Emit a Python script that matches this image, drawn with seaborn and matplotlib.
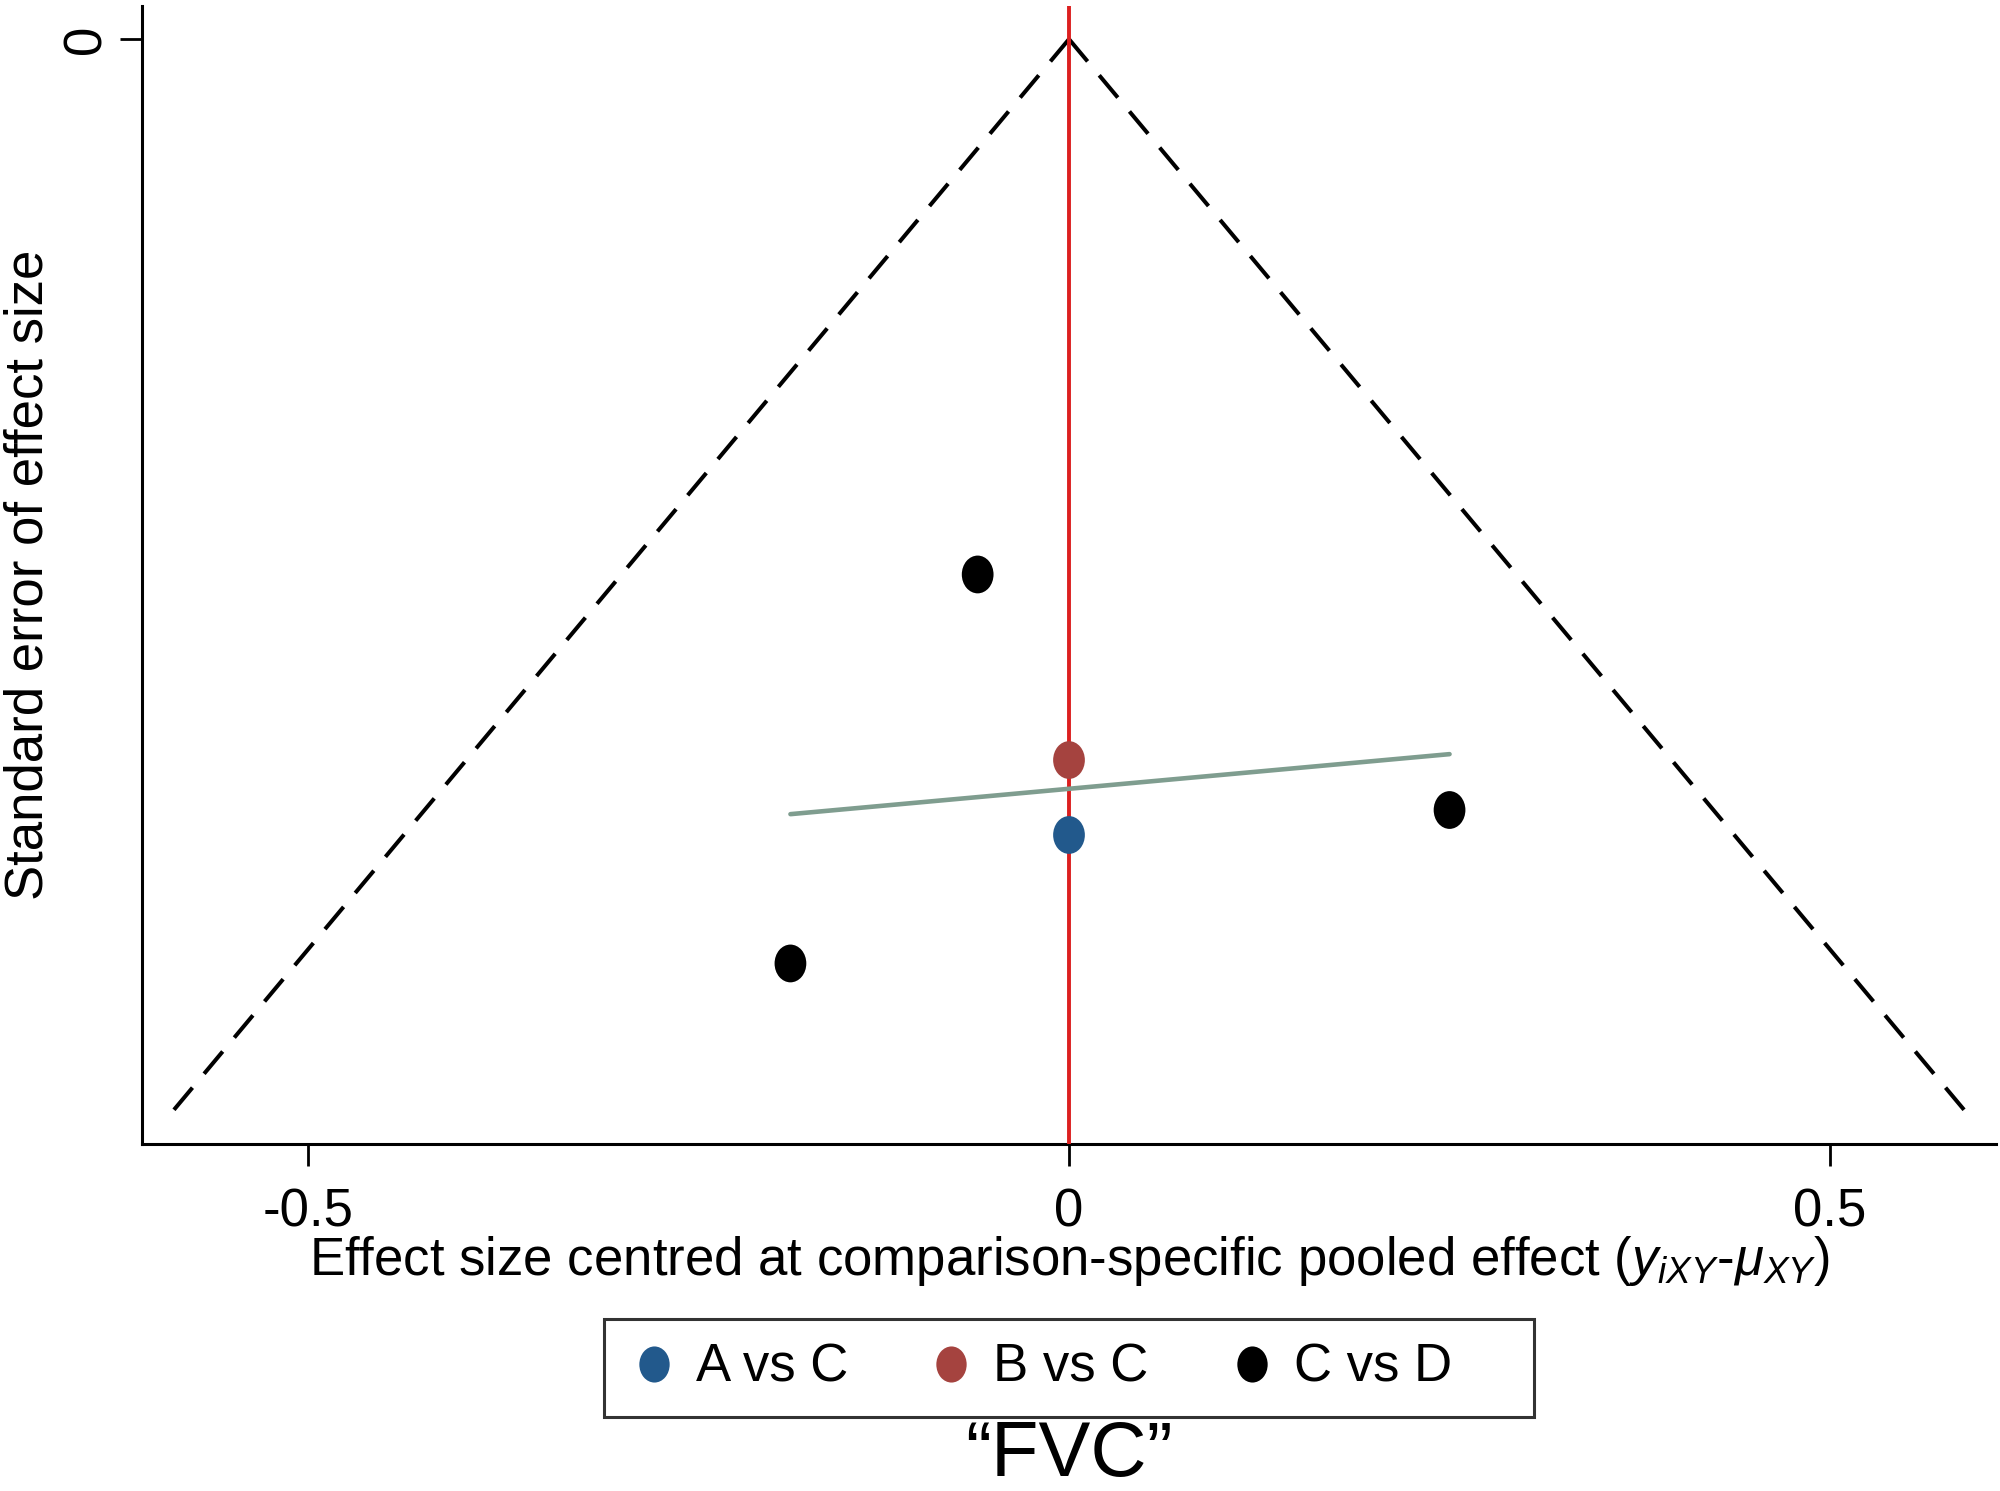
#!/usr/bin/env python3
"""
Comparison-adjusted funnel plot ("FVC") redrawn with seaborn.
"""

import matplotlib
matplotlib.use("Agg")
import matplotlib.pyplot as plt
import numpy as np
import pandas as pd
import seaborn as sns
from matplotlib.path import Path

# Study-level points: centred effect size and its standard error.
comparisons = ["C vs D", "B vs C", "A vs C", "C vs D", "C vs D"]
effect_centred = [-0.060, 0.000, 0.000, 0.250, -0.183]
std_error = [0.150, 0.202, 0.223, 0.216, 0.259]

# Legend order and colours for each comparison.
hue_order = ["A vs C", "B vs C", "C vs D"]
palette = {"A vs C": "#22598c", "B vs C": "#a5433f", "C vs D": "#000000"}

# Pseudo 95% confidence funnel: x = +/- 1.96 * se, drawn from se = 0 to se = 0.3.
funnel_se = [0.0, 0.3]
z_95 = 1.96

x_ticks = [-0.5, 0, 0.5]
x_tick_labels = ["-0.5", "0", "0.5"]
y_ticks = [0]
y_tick_labels = ["0"]

df = pd.DataFrame({"comparison": comparisons, "effect": effect_centred, "se": std_error})

sns.set_theme(style="white")
plt.rcParams["font.family"] = ["Liberation Sans", "DejaVu Sans"]
plt.rcParams["axes.unicode_minus"] = False
plt.rcParams["text.color"] = "black"
plt.rcParams["mathtext.fontset"] = "custom"
plt.rcParams["mathtext.it"] = "Liberation Sans:italic"
plt.rcParams["mathtext.rm"] = "Liberation Sans"

FS = 38

fig = plt.figure(figsize=(20, 14.91), dpi=100)
ax = fig.add_axes([0.071, 0.2327, 0.927, 0.7633])

# Funnel edges (dashed black).
se_arr = np.array(funnel_se)
for sign in (-1, 1):
    ax.plot(sign * z_95 * se_arr, se_arr, color="black", lw=2.9, dashes=(7.2, 4.5),
            solid_capstyle="butt", dash_capstyle="butt", zorder=2)

# Vertical reference line at zero.
ax.axvline(0, color="#dc1f1f", lw=2.8, zorder=3)

# Fitted line of standard error against effect (over the data range only).
sns.regplot(data=df, x="effect", y="se", scatter=False, ci=None, truncate=True,
            line_kws=dict(color="#7f9d8f", lw=3.3, zorder=4), ax=ax)

# Slightly tall oval marker, like the reference.
circle = Path.unit_circle()
oval = Path(circle.vertices * np.array([0.84, 1.0]), circle.codes)

sns.scatterplot(data=df, x="effect", y="se", hue="comparison", hue_order=hue_order,
                palette=palette, marker=oval, s=740, linewidth=0, zorder=5, ax=ax,
                legend=False)

ax.set_xlim(-0.609, 0.609)
ax.set_ylim(0.3096, -0.0093)

ax.set_xticks(x_ticks)
ax.set_xticklabels(x_tick_labels)
ax.set_yticks(y_ticks)
ax.set_yticklabels(y_tick_labels, rotation=90, va="center")

ax.tick_params(axis="both", which="major", length=16, width=2.0, color="black",
               labelsize=FS, labelcolor="black", direction="out")
ax.tick_params(axis="x", pad=15, bottom=True)
ax.tick_params(axis="y", pad=6, left=True)

for side in ("top", "right"):
    ax.spines[side].set_visible(False)
for side in ("left", "bottom"):
    ax.spines[side].set_color("black")
    ax.spines[side].set_linewidth(2.2)

ax.set_xlabel(r"Effect size centred at comparison-specific pooled effect ($y_{iXY}$-$\mu_{XY}$)",
              fontsize=FS, color="black", labelpad=-2)
ax.set_ylabel("Standard error of effect size", fontsize=FS, color="black")
ax.yaxis.set_label_coords(-0.048, 0.5)

# Legend below the plot, built from the same markers.
handles = [plt.Line2D([], [], ls="none", marker=oval, markersize=26,
                      markerfacecolor=palette[h], markeredgewidth=0) for h in hue_order]
labels = [h + "    " if h == hue_order[-1] else h for h in hue_order]
leg = fig.legend(handles, labels, loc="center", bbox_to_anchor=(0.5345, 0.0825),
                 ncol=3, frameon=True, fancybox=False, fontsize=FS, handletextpad=0.3,
                 columnspacing=1.45, borderpad=0.45, handlelength=1.0, borderaxespad=0)
leg.get_frame().set_edgecolor("black")
leg.get_frame().set_linewidth(2.2)
for t in leg.get_texts():
    t.set_color("black")

fig.text(0.5345, 0.024, "\u201cFVC\u201d", ha="center", va="center", fontsize=56, color="black")

fig.savefig("out.png", dpi=100, facecolor="white")
